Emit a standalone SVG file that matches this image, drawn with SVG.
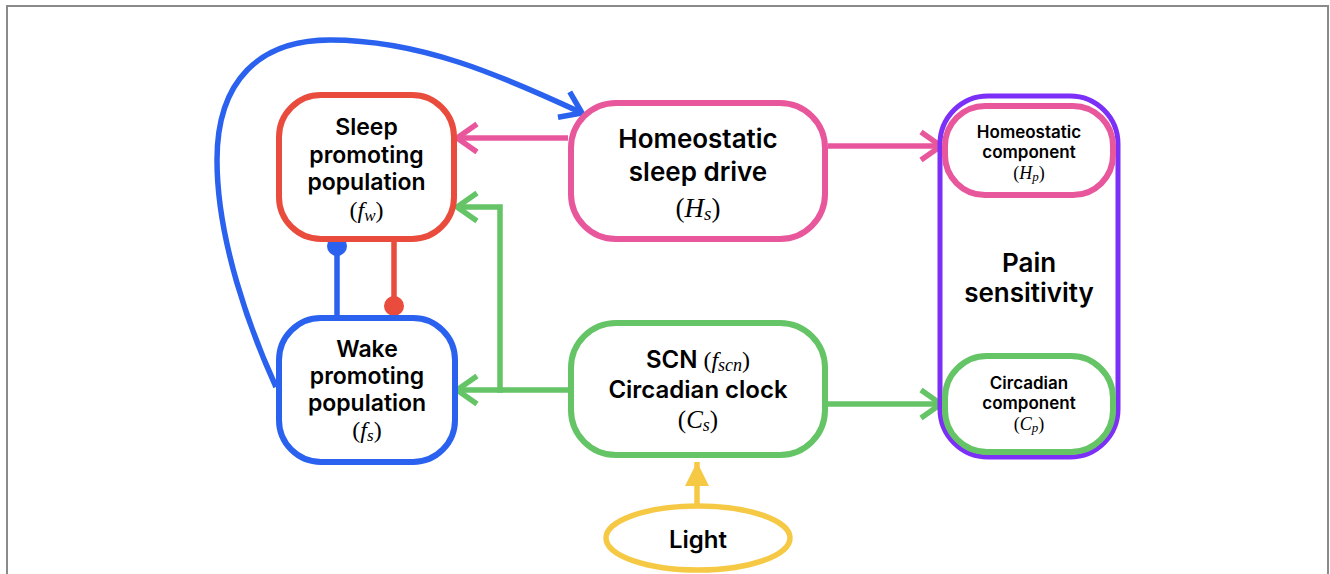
<svg xmlns="http://www.w3.org/2000/svg" width="1330" height="574" viewBox="0 0 1330 574">
  <style>
    .lbl { font-family: Inter, "Liberation Sans", Arial, sans-serif; font-weight: 600; fill: #000; text-anchor: middle; }
    .m { font-family: "Liberation Serif", "Times New Roman", serif; font-weight: 400; }
    .it { font-style: italic; }
    .box { fill: #fff; stroke-width: 6; }
    .conn { fill: none; stroke-width: 5.5; }
    .red { stroke: #E94B3C; }
    .blue { stroke: #2A62EF; }
    .pink { stroke: #E8579C; }
    .green { stroke: #64C466; }
    .yellow { stroke: #F6C945; }
    .purple { stroke: #7B2FF7; }
  </style>
  <defs>
    <marker id="ah-pink" viewBox="-26 -18 30 36" refX="0" refY="0" markerWidth="30" markerHeight="36" markerUnits="userSpaceOnUse" orient="auto">
      <path d="M-20,-14 L0,0 L-20,14" fill="none" stroke="#E8579C" stroke-width="5.5"/>
    </marker>
    <marker id="ah-green" viewBox="-26 -18 30 36" refX="0" refY="0" markerWidth="30" markerHeight="36" markerUnits="userSpaceOnUse" orient="auto">
      <path d="M-20,-14 L0,0 L-20,14" fill="none" stroke="#64C466" stroke-width="5.5"/>
    </marker>
    <marker id="ah-blue" viewBox="-26 -18 30 36" refX="0" refY="0" markerWidth="30" markerHeight="36" markerUnits="userSpaceOnUse" orient="auto">
      <path d="M-20,-14 L0,0 L-20,14" fill="none" stroke="#2A62EF" stroke-width="5.5"/>
    </marker>
    <marker id="tri-yellow" viewBox="-26 -14 28 28" refX="0" refY="0" markerWidth="28" markerHeight="28" markerUnits="userSpaceOnUse" orient="auto">
      <path d="M-24,-12 L0,0 L-24,12 Z" fill="#F6C945"/>
    </marker>
  </defs>

  <!-- frame -->
  <path d="M7,574 V6 H1328 V574" fill="none" stroke="#8a8a8a" stroke-width="2"/>

  <!-- connectors -->
  <g id="connectors">
    <!-- wake -> homeostatic drive feedback loop -->
    <path class="conn blue" d="M276,387 C250,330 217,240 217,160 C217,80 260,40 330,40 C420,40 500,75 582,113" marker-end="url(#ah-blue)"/>
    <!-- homeostatic drive -> sleep population -->
    <path class="conn pink" d="M568,138 H457" marker-end="url(#ah-pink)"/>
    <!-- homeostatic drive -> homeostatic component -->
    <path class="conn pink" d="M828,146 H941" marker-end="url(#ah-pink)"/>
    <!-- SCN -> wake population -->
    <path class="conn green" d="M568,390 H457" marker-end="url(#ah-green)"/>
    <!-- SCN -> sleep population (branch) -->
    <path class="conn green" d="M500,392.75 V207 H457" marker-end="url(#ah-green)"/>
    <!-- SCN -> circadian component -->
    <path class="conn green" d="M828,404 H941" marker-end="url(#ah-green)"/>
    <!-- mutual inhibition -->
    <line class="conn blue" x1="337" y1="318" x2="337" y2="246"/>
    <circle cx="337" cy="246" r="10" fill="#2A62EF"/>
    <line class="conn red" x1="394" y1="240" x2="394" y2="306"/>
    <circle cx="394" cy="306" r="10" fill="#E94B3C"/>
    <!-- components -> pain sensitivity -->
    <path class="conn pink" d="M1029,198 V242" marker-end="url(#ah-pink)"/>
    <path class="conn green" d="M1029,353 V312" marker-end="url(#ah-green)"/>
    <!-- light -> SCN -->
    <path class="conn yellow" d="M697,505 V462" marker-end="url(#tri-yellow)"/>
  </g>

  <!-- sleep promoting population -->
  <g id="sleep-pop">
    <rect class="box red" x="279" y="95" width="175" height="144" rx="42"/>
    <text class="lbl" font-size="23" x="366.5" y="135">Sleep</text>
    <text class="lbl" font-size="23" x="366.5" y="163">promoting</text>
    <text class="lbl" font-size="23" x="366.5" y="190">population</text>
    <text class="lbl m" font-size="24" x="366.5" y="218">(<tspan class="it">f</tspan><tspan class="it" font-size="17" dy="3">w</tspan><tspan dy="-3">)</tspan></text>
  </g>

  <!-- wake promoting population -->
  <g id="wake-pop">
    <rect class="box blue" x="279" y="318" width="176" height="144" rx="42"/>
    <text class="lbl" font-size="23" x="367" y="357">Wake</text>
    <text class="lbl" font-size="23" x="367" y="384">promoting</text>
    <text class="lbl" font-size="23" x="367" y="411">population</text>
    <text class="lbl m" font-size="24" x="367" y="438">(<tspan class="it">f</tspan><tspan class="it" font-size="17" dy="3">s</tspan><tspan dy="-3">)</tspan></text>
  </g>

  <!-- homeostatic sleep drive -->
  <g id="homeostatic-drive">
    <rect class="box pink" x="571" y="103" width="254" height="136" rx="45"/>
    <text class="lbl" font-size="26" x="698" y="148">Homeostatic</text>
    <text class="lbl" font-size="26" x="698" y="181">sleep drive</text>
    <text class="lbl m" font-size="27" x="698" y="217">(<tspan class="it">H</tspan><tspan class="it" font-size="19" dy="3">s</tspan><tspan dy="-3">)</tspan></text>
  </g>

  <!-- SCN circadian clock -->
  <g id="scn">
    <rect class="box green" x="571" y="323" width="254" height="132" rx="45"/>
    <text class="lbl" font-size="24" x="698" y="368">SCN <tspan class="m">(</tspan><tspan class="m it">f</tspan><tspan class="m it" font-size="18" dy="3">scn</tspan><tspan class="m" dy="-3">)</tspan></text>
    <text class="lbl" font-size="24" x="698" y="398">Circadian clock</text>
    <text class="lbl m" font-size="25" x="698" y="428">(<tspan class="it">C</tspan><tspan class="it" font-size="18" dy="3">s</tspan><tspan dy="-3">)</tspan></text>
  </g>

  <!-- light input -->
  <g id="light">
    <ellipse cx="698" cy="538" rx="92" ry="32" fill="#fff" stroke="#F6C945" stroke-width="5.5"/>
    <text class="lbl" font-size="24" x="698" y="548">Light</text>
  </g>

  <!-- pain sensitivity container -->
  <g id="pain">
    <rect x="940" y="96" width="178" height="361" rx="48" fill="#fff" stroke="#7B2FF7" stroke-width="5"/>
    <text class="lbl" font-size="26" x="1029" y="272">Pain</text>
    <text class="lbl" font-size="26" x="1029" y="302">sensitivity</text>
  </g>

  <!-- homeostatic component -->
  <g id="homeostatic-comp">
    <rect class="box pink" x="945" y="106" width="168" height="89" rx="40"/>
    <text class="lbl" font-size="17" x="1029" y="138">Homeostatic</text>
    <text class="lbl" font-size="17" x="1029" y="158">component</text>
    <text class="lbl m" font-size="18" x="1029" y="179">(<tspan class="it">H</tspan><tspan class="it" font-size="13" dy="2">p</tspan><tspan dy="-2">)</tspan></text>
  </g>

  <!-- circadian component -->
  <g id="circadian-comp">
    <rect class="box green" x="945" y="356" width="168" height="96" rx="42"/>
    <text class="lbl" font-size="17" x="1029" y="389">Circadian</text>
    <text class="lbl" font-size="17" x="1029" y="409">component</text>
    <text class="lbl m" font-size="18" x="1029" y="430">(<tspan class="it">C</tspan><tspan class="it" font-size="13" dy="2">p</tspan><tspan dy="-2">)</tspan></text>
  </g>
</svg>
